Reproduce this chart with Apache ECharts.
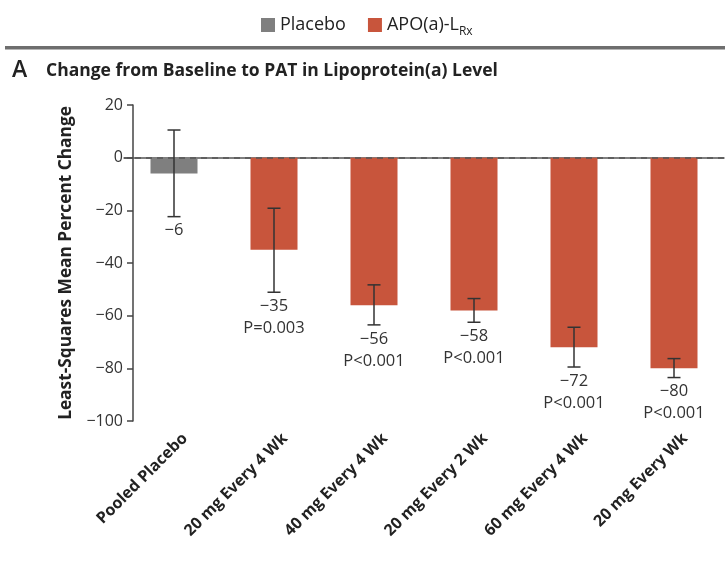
<!DOCTYPE html>
<html>
<head>
<meta charset="utf-8">
<script src="https://cdn.jsdelivr.net/npm/echarts@6/dist/echarts.min.js"></script>
<style>html,body{margin:0;padding:0;background:#fff;}#c{width:725px;height:570px;}</style>
</head>
<body>
<div id="c"></div>
<script>
const categories = ['Pooled Placebo', '20 mg Every 4 Wk', '40 mg Every 4 Wk', '20 mg Every 2 Wk', '60 mg Every 4 Wk', '20 mg Every Wk'];
const placeboValues = [-6, '-', '-', '-', '-', '-'];
const apoValues = ['-', -35, -56, -58, -72, -80];
const ciLower = [-22.4, -51.1, -63.5, -62.5, -79.5, -83.5];
const ciUpper = [10.5, -19.2, -48.3, -53.5, -64.4, -76.3];
const meanLabels = ['\u22126', '\u221235', '\u221256', '\u221258', '\u221272', '\u221280'];
const pLabels = ['', 'P=0.003', 'P<0.001', 'P<0.001', 'P<0.001', 'P<0.001'];
const yTicks = [-100, -80, -60, -40, -20, 0, 20];

const NUM_FONT = 'Open Sans';
const BOLD_FONT = 'Open Sans';
const chart = echarts.init(document.getElementById('c'), null, {renderer: 'canvas'});

const option = {
  animation: false,
  backgroundColor: '#fff',
  legend: {
    left: 261, top: 16, padding: 0,
    itemWidth: 14, itemHeight: 14, itemGap: 22,
    icon: 'rect',
    textStyle: {
      fontFamily: NUM_FONT, fontSize: 18, color: '#222',
      rich: {
        a: {fontFamily: NUM_FONT, fontSize: 18, color: '#222'},
        s: {fontFamily: NUM_FONT, fontSize: 12, color: '#222', verticalAlign: 'bottom', padding: [14, 0, 0, 0]}
      }
    },
    formatter: function (name) {
      return name === 'APO(a)-LRx' ? '{a|APO(a)-L}{s|Rx}' : name;
    },
    data: ['Placebo', 'APO(a)-LRx']
  },
  graphic: [
    {type: 'rect', shape: {x: 5, y: 46, width: 720, height: 3.5}, style: {fill: '#6e6e6e'}, silent: true},
    {type: 'text', left: 12, top: 59, style: {text: 'A', fontFamily: NUM_FONT, fontWeight: 600, fontSize: 23, fill: '#222'}},
    {type: 'text', left: 46, top: 62, style: {text: 'Change from Baseline to PAT in Lipoprotein(a) Level', fontFamily: BOLD_FONT, fontWeight: 'bold', fontSize: 17.5, fill: '#222'}}
  ],
  grid: {left: 124, right: 1, top: 105, bottom: 149},
  xAxis: {
    type: 'category',
    data: categories,
    axisLine: {lineStyle: {color: '#555', width: 1.5}},
    axisTick: {show: false},
    axisLabel: {rotate: 45, interval: 0, margin: 4, verticalAlign: 'top', lineHeight: 31, fontFamily: BOLD_FONT, fontWeight: 'bold', fontSize: 16, color: '#222'}
  },
  yAxis: {
    type: 'value',
    min: -100, max: 20, interval: 20,
    offset: -9,
    name: 'Least-Squares Mean Percent Change',
    nameLocation: 'middle',
    nameGap: 58,
    nameTextStyle: {fontFamily: BOLD_FONT, fontWeight: 'bold', fontSize: 17.3, color: '#222'},
    axisLine: {show: true, lineStyle: {color: '#444', width: 1.5}},
    axisTick: {show: true, length: 6, lineStyle: {color: '#444', width: 1.5}},
    axisLabel: {margin: 10, fontFamily: NUM_FONT, fontSize: 16, color: '#333',
      formatter: function (v) { return yTicks.indexOf(v) >= 0 ? (v < 0 ? '\u2212' + Math.abs(v) : String(v)) : ''; }},
    splitLine: {show: false}
  },
  series: [
    {
      name: 'Placebo', type: 'bar', data: placeboValues, barWidth: 47, barGap: '-100%',
      itemStyle: {color: '#7f7f7f'}
    },
    {
      name: 'APO(a)-LRx', type: 'bar', data: apoValues, barWidth: 47, barGap: '-100%',
      itemStyle: {color: '#c8553c'},
      markLine: {
        silent: true, symbol: ['none', 'none'], label: {show: false},
        lineStyle: {color: '#555', type: [6, 5], width: 1.5},
        data: [{yAxis: 0}]
      }
    },
    {
      type: 'custom',
      data: categories.map(function (c, i) { return [i, ciLower[i], ciUpper[i]]; }),
      z: 10,
      renderItem: function (params, api) {
        const i = api.value(0);
        const top = api.coord([i, api.value(2)]);
        const bot = api.coord([i, api.value(1)]);
        const x = top[0];
        const half = 6.5;
        const ls = {stroke: '#333', lineWidth: 1.5};
        const idx = params.dataIndex;
        return {
          type: 'group',
          children: [
            {type: 'line', shape: {x1: x, y1: top[1], x2: x, y2: bot[1]}, style: ls},
            {type: 'line', shape: {x1: x - half, y1: top[1], x2: x + half, y2: top[1]}, style: ls},
            {type: 'line', shape: {x1: x - half, y1: bot[1], x2: x + half, y2: bot[1]}, style: ls},
            {type: 'text', style: {text: meanLabels[idx], x: x, y: bot[1] + 14, textAlign: 'center', textVerticalAlign: 'middle', fontFamily: NUM_FONT, fontSize: 16.5, fill: '#333'}},
            {type: 'text', style: {text: pLabels[idx], x: x, y: bot[1] + 36, textAlign: 'center', textVerticalAlign: 'middle', fontFamily: NUM_FONT, fontSize: 16.5, fill: '#333'}}
          ]
        };
      }
    }
  ]
};
chart.setOption(option);
</script>
</body>
</html>
